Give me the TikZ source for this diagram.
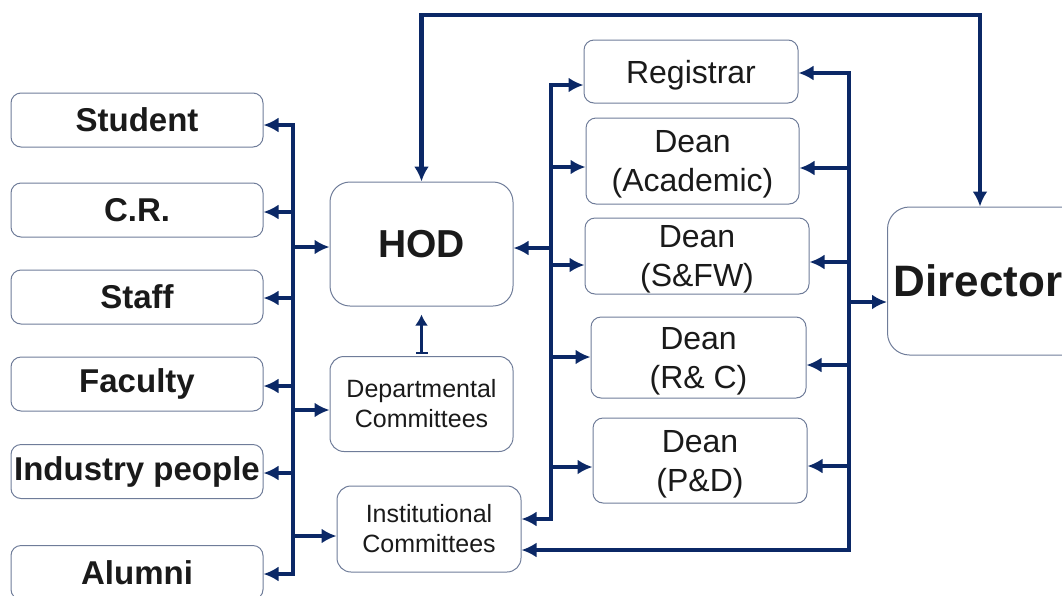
\documentclass[tikz,border=0pt]{standalone}
\usepackage{fontspec}
\setmainfont{Liberation Sans}
\usetikzlibrary{arrows.meta,calc}
\definecolor{navy}{HTML}{0B2866}
\definecolor{boxline}{HTML}{6F7C99}
\definecolor{txt}{HTML}{1A1A1A}
\begin{document}
\begin{tikzpicture}[x=1pt,y=-1pt,
  box/.style={draw=boxline, line width=1pt, rounded corners=10pt, inner sep=0pt, text=txt, align=center},
  lbox/.style={box, minimum width=252pt, minimum height=54pt, font=\fontsize{33}{40}\selectfont\bfseries},
  dean/.style={box, text depth=0pt, font=\fontsize{32}{39}\selectfont},
  comm/.style={box, rounded corners=14pt, font=\fontsize{25}{30}\selectfont},
  conn/.style={draw=navy, line width=4.4pt},
  arr/.style={conn, -{Latex[length=15pt,width=15pt]}},
]
\useasboundingbox (0,0) rectangle (1062,595);
\clip (0,0) rectangle (1062,595);

% left column
\node[lbox] (student) at (137,120) {Student};
\node[lbox] (cr) at (137,210) {C.R.};
\node[lbox] (staff) at (137,297) {Staff};
\node[lbox] (faculty) at (137,384) {Faculty};
\node[lbox] (industry) at (137,471.5) {Industry people};
\node[lbox] (alumni) at (137,572.5) {Alumni};

% middle column
\node[box, rounded corners=20pt, minimum width=183pt, minimum height=124pt,
      font=\fontsize{39}{46}\selectfont\bfseries] (hod) at (421.5,244) {HOD};
\node[comm, minimum width=183pt, minimum height=95pt] (dept) at (421.5,404) {Departmental\\Committees};
\node[comm, minimum width=184pt, minimum height=86pt] (inst) at (429,529) {Institutional\\Committees};

% officers
\node[dean, minimum width=214pt, minimum height=63pt] (reg) at (691,71.5) {Registrar};
\node[dean, minimum width=213pt, minimum height=86pt] (acad) at (692.5,161) {Dean\\(Academic)};
\node[dean, minimum width=224pt, minimum height=76pt] (sfw) at (697,256) {Dean\\(S\&FW)};
\node[dean, minimum width=215pt, minimum height=81pt] (rc) at (698.5,357.5) {Dean\\(R\& C)};
\node[dean, minimum width=214pt, minimum height=85pt] (pd) at (700,460.5) {Dean\\(P\&D)};

% director
\node[box, rounded corners=22pt, minimum height=148pt, text width=198pt, inner xsep=6pt,
      align=left, anchor=west, font=\fontsize{44}{50}\selectfont\bfseries] (dir) at (887,281) {Director};

% left bus
\coordinate (lt) at (293,125);
\coordinate (lb) at (293,574);
\draw[conn, line cap=rect] (lt) -- (lb);
\foreach \n/\y in {student/125, cr/212, staff/298, faculty/386, industry/473, alumni/574}
  \draw[arr] (293,\y) -- (\n.east |- 0,\y);
\draw[arr] (293,247) -- (hod.west |- 0,247);
\draw[arr] (293,410) -- (dept.west |- 0,410);
\draw[arr] (293,536) -- (inst.west |- 0,536);

% middle bus
\coordinate (mt) at (551,85);
\coordinate (mb) at (551,519);
\draw[conn, line cap=rect] (mt) -- (mb);
\foreach \n/\y in {reg/85, acad/167, sfw/265, rc/357, pd/467}
  \draw[arr] (551,\y) -- (\n.west |- 0,\y);
\draw[arr] (551,248) -- (hod.east |- 0,248);
\draw[arr] (551,519) -- (inst.east |- 0,519);

% right bus
\coordinate (rt) at (849,73);
\coordinate (rb) at (849,550);
\draw[conn, line cap=rect] (rt) -- (rb);
\foreach \n/\y in {reg/73, acad/168, sfw/262, rc/365, pd/466}
  \draw[arr] (849,\y) -- (\n.east |- 0,\y);
\draw[arr] (849,302) -- (dir.west |- 0,302);
\draw[arr] (rb) -- (inst.east |- rb);

% top link HOD <-> Director
\coordinate (t1) at (421.5,15);
\coordinate (t2) at (980,15);
\draw[conn, {Latex[length=15pt,width=15pt]}-{Latex[length=15pt,width=15pt]}]
  (t1 |- hod.north) -- (t1) -- (t2) -- (t2 |- dir.north);

% departmental committees -> HOD
\draw[navy, line width=2.4pt, {Bar[width=12pt,line width=2pt]}-{Latex[length=11pt,width=13pt]},
  shorten <=2.5pt, shorten >=8pt] (dept.north) -- (hod.south);
\end{tikzpicture}
\end{document}
